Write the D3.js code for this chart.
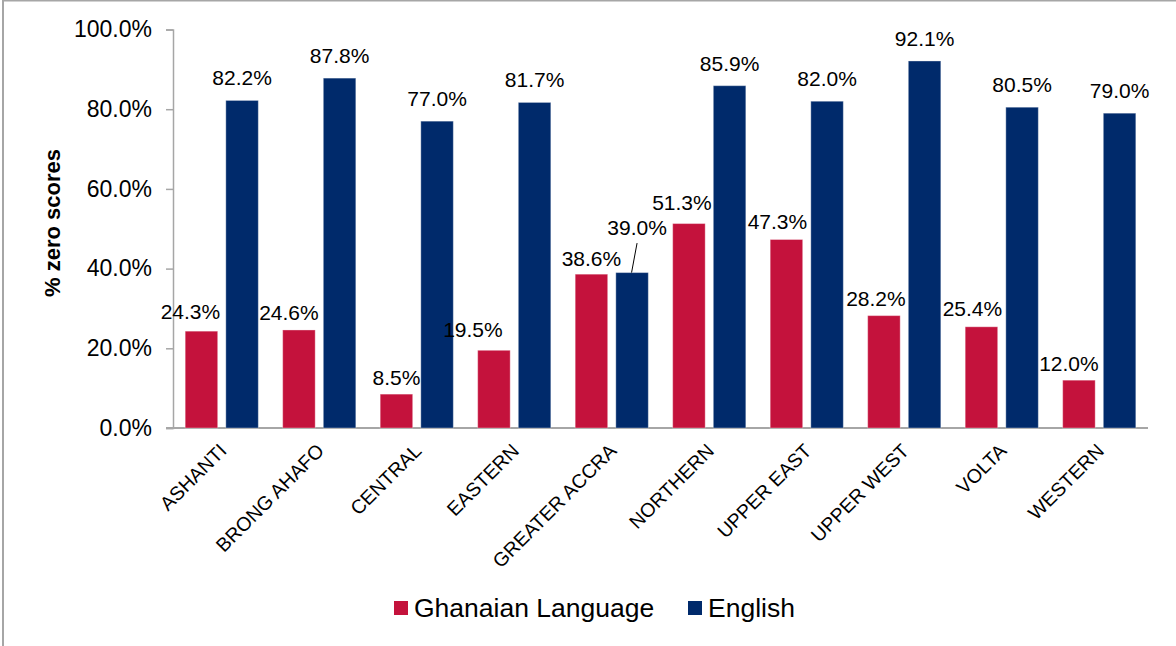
<!DOCTYPE html>
<html>
<head>
<meta charset="utf-8">
<script src="https://cdn.jsdelivr.net/npm/d3@7/dist/d3.min.js"></script>
<style>
  html, body { margin: 0; padding: 0; background: #fff; }
  svg { display: block; font-family: "Liberation Sans", Arial, sans-serif; }
</style>
</head>
<body>
<svg id="chart" width="1176" height="646"></svg>
<script>
// ---- data ----
const categories = ["ASHANTI", "BRONG AHAFO", "CENTRAL", "EASTERN", "GREATER ACCRA",
  "NORTHERN", "UPPER EAST", "UPPER WEST", "VOLTA", "WESTERN"];
const seriesNames = ["Ghanaian Language", "English"];
const ghanaian = [24.3, 24.6, 8.5, 19.5, 38.6, 51.3, 47.3, 28.2, 25.4, 12.0];
const english = [82.2, 87.8, 77.0, 81.7, 39.0, 85.9, 82.0, 92.1, 80.5, 79.0];
const yTicks = [0, 20, 40, 60, 80, 100];

// label nudges (layout tweaks, px)
const redLabelDx = [-11, -10, 0, -21, 0, -7, -9, -8, -9, -10];
const redLabelGap = [12, 10, 9, 13, 8, 14, 11, 10, 11, 9];

const colors = ["#C4123C", "#002A6B"];

const svg = d3.select("#chart");
const plot = { left: 173, right: 1148, top: 29.5, bottom: 428 };

// outer border (partially clipped like the reference)
svg.append("rect").attr("x", 3).attr("y", 0.5).attr("width", 1300).attr("height", 800)
  .attr("fill", "none").attr("stroke", "#a6a6a6").attr("stroke-width", 2);

const x0 = d3.scaleBand().domain(categories).range([plot.left, plot.right])
  .paddingInner(0.25).paddingOuter(0.125);
const x1 = d3.scaleBand().domain(seriesNames).range([0, x0.bandwidth()])
  .paddingInner(0.2).paddingOuter(0);
const y = d3.scaleLinear().domain([0, 100]).range([plot.bottom, plot.top]);

// y axis
const yAxis = d3.axisLeft(y).tickValues(yTicks).tickSize(7).tickPadding(14)
  .tickFormat(d => d.toFixed(1) + "%");
const gy = svg.append("g").attr("transform", `translate(${plot.left},0)`).call(yAxis);
gy.select(".domain").attr("stroke", "#a6a6a6").attr("stroke-width", 1.5);
gy.selectAll(".tick line").attr("stroke", "#a6a6a6").attr("stroke-width", 1.5);
gy.selectAll(".tick text").attr("font-size", 23).attr("fill", "#000")
  .attr("font-family", "Liberation Sans, Arial, sans-serif");

// x axis
const xAxis = d3.axisBottom(x0).tickSize(0).tickFormat("");
const gx = svg.append("g").attr("transform", `translate(0,${plot.bottom})`).call(xAxis);
gx.select(".domain").attr("stroke", "#a6a6a6").attr("stroke-width", 2)
  .attr("d", `M${plot.left - 7},0H${plot.right}`);

// category labels
svg.append("g").selectAll("text").data(categories).join("text")
  .attr("transform", d => `translate(${x0(d) + x0.bandwidth() / 2 + 6},${plot.bottom + 24}) rotate(-45)`)
  .attr("text-anchor", "end")
  .attr("font-size", 19.5).attr("fill", "#000")
  .text(d => d);

// bars
const rows = categories.map((c, i) => ({ cat: c, i, vals: [ghanaian[i], english[i]] }));
const groups = svg.append("g").selectAll("g").data(rows).join("g")
  .attr("transform", d => `translate(${x0(d.cat)},0)`);
groups.selectAll("rect").data(d => d.vals.map((v, k) => ({ v, k }))).join("rect")
  .attr("x", d => x1(seriesNames[d.k]))
  .attr("width", x1.bandwidth())
  .attr("y", d => y(d.v))
  .attr("height", d => y(0) - y(d.v))
  .attr("fill", d => colors[d.k])
  .attr("stroke", "rgba(255,255,255,0.35)")
  .attr("stroke-width", 1);

// value labels
const fmt = v => v.toFixed(1) + "%";
const labels = svg.append("g").attr("font-size", 21).attr("fill", "#000").attr("text-anchor", "middle");
rows.forEach(r => {
  const cx0 = x0(r.cat) + x1(seriesNames[0]) + x1.bandwidth() / 2;
  labels.append("text")
    .attr("x", cx0 + redLabelDx[r.i])
    .attr("y", y(r.vals[0]) - redLabelGap[r.i])
    .text(fmt(r.vals[0]));
  const cx1 = x0(r.cat) + x1(seriesNames[1]) + x1.bandwidth() / 2;
  if (r.cat === "GREATER ACCRA") {
    labels.append("text")
      .attr("x", cx1 + 5).attr("y", y(r.vals[1]) - 37.5)
      .text(fmt(r.vals[1]));
    svg.append("line")
      .attr("x1", cx1 + 5).attr("y1", y(r.vals[1]) - 29.5)
      .attr("x2", cx1 - 0.5).attr("y2", y(r.vals[1]))
      .attr("stroke", "#000").attr("stroke-width", 1);
  } else {
    labels.append("text")
      .attr("x", cx1)
      .attr("y", y(r.vals[1]) - 15)
      .text(fmt(r.vals[1]));
  }
});

// y axis title
svg.append("text")
  .attr("transform", `translate(60,223) rotate(-90)`)
  .attr("text-anchor", "middle")
  .attr("font-size", 22).attr("font-weight", "bold").attr("fill", "#000")
  .text("% zero scores");

// legend
const legendItems = [
  { name: seriesNames[0], color: colors[0], x: 394 },
  { name: seriesNames[1], color: colors[1], x: 688 }
];
const lg = svg.append("g");
legendItems.forEach(it => {
  lg.append("rect").attr("x", it.x).attr("y", 601).attr("width", 14).attr("height", 14)
    .attr("fill", it.color);
  lg.append("text").attr("x", it.x + 20).attr("y", 616.5)
    .attr("font-size", 26.5).attr("fill", "#000").text(it.name);
});
</script>
</body>
</html>
